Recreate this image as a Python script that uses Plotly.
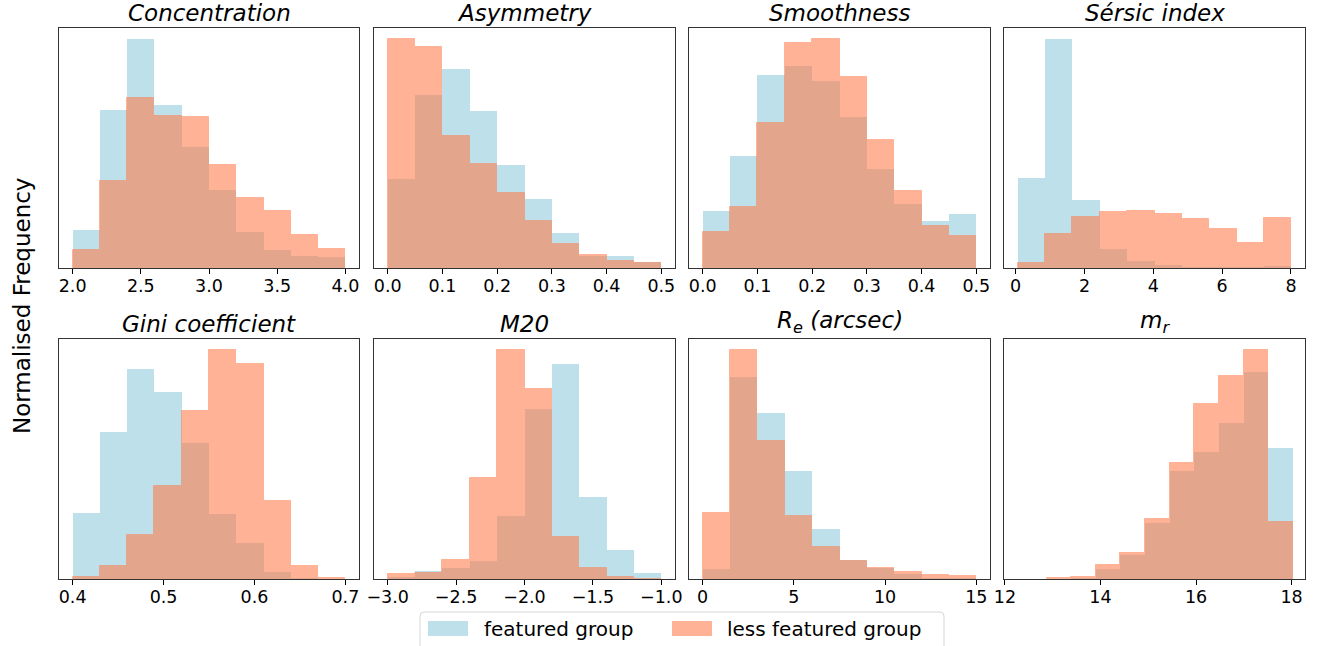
import plotly.graph_objects as go

W, H = 1320, 646

# ---------------- data (normalised frequency, arbitrary units) ----------------
titles = ["<i>Concentration</i>", "<i>Asymmetry</i>", "<i>Smoothness</i>", "<i>Sérsic index</i>",
          "<i>Gini coefficient</i>", "<i>M20</i>", "<i>R<sub>e</sub> (arcsec)</i>", "<i>m<sub>r</sub></i>"]

conc_edges = [2.0, 2.2, 2.4, 2.6, 2.8, 3.0, 3.2, 3.4, 3.6, 3.8, 4.0]
conc_feat = [115, 475, 688, 490, 364, 235, 107, 53, 37, 34]
conc_less = [55, 262, 512, 457, 454, 310, 211, 172, 100, 58]

asym_edges = [0.0, 0.05, 0.10, 0.15, 0.20, 0.25, 0.30, 0.35, 0.40, 0.45, 0.50]
asym_feat = [268, 520, 598, 472, 310, 208, 106, 37, 37, 19]
asym_less = [688, 664, 397, 313, 226, 142, 73, 40, 22, 16]

smooth_edges = [0.0, 0.05, 0.10, 0.15, 0.20, 0.25, 0.30, 0.35, 0.40, 0.45, 0.50]
smooth_feat = [172, 337, 580, 607, 562, 454, 298, 193, 142, 163]
smooth_less = [109, 184, 436, 676, 688, 574, 385, 232, 127, 97]

sersic_edges = [0.06, 0.855, 1.65, 2.445, 3.24, 4.035, 4.83, 5.625, 6.42, 7.215, 8.01]
sersic_feat = [271, 688, 205, 58, 22, 10, 4, 4, 2, 7]
sersic_less = [16, 103, 154, 169, 172, 163, 148, 118, 76, 151]

gini_edges = [0.40, 0.43, 0.46, 0.49, 0.52, 0.55, 0.58, 0.61, 0.64, 0.67, 0.70]
gini_feat = [199, 442, 628, 559, 409, 196, 109, 22, 2, 0]
gini_less = [7, 40, 133, 280, 502, 685, 643, 235, 40, 4]

m20_edges = [-3.0, -2.8, -2.6, -2.4, -2.2, -2.0, -1.8, -1.6, -1.4, -1.2, -1.0]
m20_feat = [7, 25, 34, 55, 190, 508, 643, 247, 88, 19]
m20_less = [16, 19, 58, 304, 685, 568, 127, 34, 7, 0]

re_edges = [0.0, 1.5, 3.0, 4.5, 6.0, 7.5, 9.0, 10.5, 12.0, 13.5, 15.0]
re_feat = [31, 604, 496, 325, 151, 58, 32, 16, 3, 2]
re_less = [199, 685, 415, 190, 97, 55, 34, 22, 13, 10]

mr_edges = [12.87, 13.386, 13.902, 14.418, 14.934, 15.45, 15.966, 16.482, 16.998, 17.514, 18.03]
mr_feat = [0, 2, 31, 73, 169, 325, 382, 469, 619, 394]
mr_less = [2, 5, 43, 79, 181, 349, 523, 607, 685, 172]

series_names = ["featured group", "less featured group"]

tick_vals = [
    [2.0, 2.5, 3.0, 3.5, 4.0],
    [0.0, 0.1, 0.2, 0.3, 0.4, 0.5],
    [0.0, 0.1, 0.2, 0.3, 0.4, 0.5],
    [0, 2, 4, 6, 8],
    [0.4, 0.5, 0.6, 0.7],
    [-3.0, -2.5, -2.0, -1.5, -1.0],
    [0, 5, 10, 15],
    [12, 14, 16, 18],
]
tick_text = [
    ["2.0", "2.5", "3.0", "3.5", "4.0"],
    ["0.0", "0.1", "0.2", "0.3", "0.4", "0.5"],
    ["0.0", "0.1", "0.2", "0.3", "0.4", "0.5"],
    ["0", "2", "4", "6", "8"],
    ["0.4", "0.5", "0.6", "0.7"],
    ["\u22123.0", "\u22122.5", "\u22122.0", "\u22121.5", "\u22121.0"],
    ["0", "5", "10", "15"],
    ["12", "14", "16", "18"],
]

panels = [
    (conc_edges, conc_feat, conc_less),
    (asym_edges, asym_feat, asym_less),
    (smooth_edges, smooth_feat, smooth_less),
    (sersic_edges, sersic_feat, sersic_less),
    (gini_edges, gini_feat, gini_less),
    (m20_edges, m20_feat, m20_less),
    (re_edges, re_feat, re_less),
    (mr_edges, mr_feat, mr_less),
]

# ---------------- layout geometry (pixels) ----------------
col_px = [(59, 359), (374, 675), (689, 990), (1004, 1305)]
row_px = [(28, 268), (339, 579)]

BLUE = "rgba(173,216,230,0.8)"
CORAL = "rgb(255,127,80)"
CORAL_A = "rgba(255,127,80,0.6)"
FONT = "DejaVu Sans"


def px(x):
    return x / W


def py(y):
    return 1 - y / H


fig = go.Figure()
layout = dict(
    width=W, height=H,
    margin=dict(l=0, r=0, t=0, b=0, autoexpand=False),
    paper_bgcolor="white", plot_bgcolor="white",
    barmode="overlay", bargap=0,
    font=dict(family=FONT, size=17.5, color="black"),
    showlegend=False,
)
annotations = []
shapes = []

for i, (edges, feat, less) in enumerate(panels):
    r, c = divmod(i, 4)
    n = i + 1
    xa = "x" if n == 1 else f"x{n}"
    ya = "y" if n == 1 else f"y{n}"
    centers = [(edges[k] + edges[k + 1]) / 2 for k in range(len(edges) - 1)]
    widths = [edges[k + 1] - edges[k] for k in range(len(edges) - 1)]
    fig.add_trace(go.Bar(
        x=centers, y=feat, width=widths, xaxis=xa, yaxis=ya,
        marker=dict(color=BLUE, line=dict(width=0)),
        name=series_names[0], hoverinfo="skip",
    ))
    fig.add_trace(go.Bar(
        x=centers, y=less, width=widths, xaxis=xa, yaxis=ya,
        marker=dict(color=CORAL, line=dict(color=CORAL, width=1)),
        opacity=0.6, name=series_names[1], hoverinfo="skip",
    ))
    lo, hi = edges[0], edges[-1]
    span = hi - lo
    xr = [lo - 0.05 * span, hi + 0.05 * span]
    if i == 7:
        xr = [11.98, 18.28]
    ymax = max(max(feat), max(less)) * 1.05
    x0, x1 = col_px[c]
    y0, y1 = row_px[r]
    xkey = "xaxis" if n == 1 else f"xaxis{n}"
    ykey = "yaxis" if n == 1 else f"yaxis{n}"
    layout[xkey] = dict(
        domain=[px(x0), px(x1)], anchor=ya, range=xr, automargin=False,
        tickmode="array", tickvals=tick_vals[i], ticktext=tick_text[i],
        ticks="outside", ticklen=5, tickwidth=1, tickcolor="black",
        ticklabelstandoff=-3,
        showline=True, linecolor="#333", linewidth=1, mirror=True,
        showgrid=False, zeroline=False, fixedrange=True,
        tickfont=dict(family=FONT, size=17.5, color="black"),
    )
    layout[ykey] = dict(
        domain=[py(y1), py(y0)], anchor=xa, range=[0, ymax], automargin=False,
        showticklabels=False, ticks="",
        showline=True, linecolor="#333", linewidth=1, mirror=True,
        showgrid=False, zeroline=False, fixedrange=True,
    )
    annotations.append(dict(
        text=titles[i], xref="paper", yref="paper",
        x=px((x0 + x1) / 2), y=py(y0), xanchor="center", yanchor="bottom",
        yshift=0, showarrow=False, font=dict(family=FONT, size=23, color="black"),
    ))

annotations.append(dict(
    text="Normalised Frequency", xref="paper", yref="paper",
    x=px(22), y=py(306), xanchor="center", yanchor="middle",
    textangle=-90, showarrow=False, font=dict(family=FONT, size=23, color="black"),
))

# ---------------- legend (drawn like matplotlib's) ----------------
bx0, bx1, by0, by1, rad = 420, 944, 612, 652, 4
path = (f"M {px(bx0 + rad)},{py(by0)} L {px(bx1 - rad)},{py(by0)} "
        f"Q {px(bx1)},{py(by0)} {px(bx1)},{py(by0 + rad)} "
        f"L {px(bx1)},{py(by1 - rad)} Q {px(bx1)},{py(by1)} {px(bx1 - rad)},{py(by1)} "
        f"L {px(bx0 + rad)},{py(by1)} Q {px(bx0)},{py(by1)} {px(bx0)},{py(by1 - rad)} "
        f"L {px(bx0)},{py(by0 + rad)} Q {px(bx0)},{py(by0)} {px(bx0 + rad)},{py(by0)} Z")
shapes.append(dict(type="path", xref="paper", yref="paper", path=path,
                   line=dict(color="#d6d6d6", width=1), fillcolor="rgba(255,255,255,0.8)"))
legend_items = [(428, 482, BLUE), (672, 725, CORAL_A)]
for (sx, tx, col), name in zip(legend_items, series_names):
    shapes.append(dict(type="rect", xref="paper", yref="paper",
                       x0=px(sx), x1=px(sx + 40), y0=py(636), y1=py(621),
                       line=dict(width=0), fillcolor=col))
    annotations.append(dict(
        text=name, xref="paper", yref="paper", x=px(tx), y=py(628.5),
        xanchor="left", yanchor="middle", showarrow=False,
        font=dict(family=FONT, size=20, color="black"),
    ))

layout["annotations"] = annotations
layout["shapes"] = shapes
fig.update_layout(**layout)
fig.write_html("out.html")
